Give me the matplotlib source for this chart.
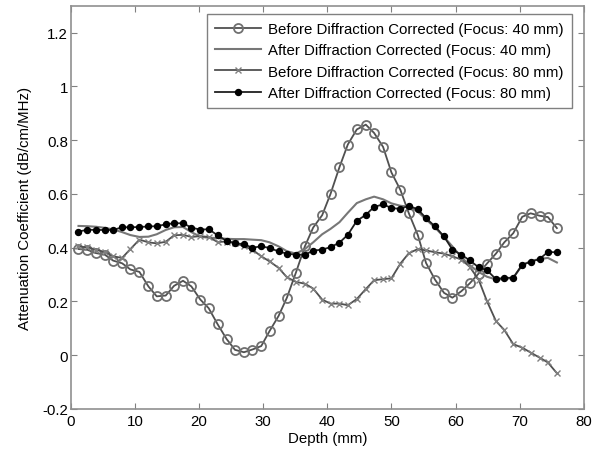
import numpy as np
import matplotlib
matplotlib.use("Agg")
import matplotlib.pyplot as plt

plt.rcParams['font.family'] = ['Liberation Sans', 'DejaVu Sans']

# depth grid (mm)
depth = [1.2, 2.6, 3.9, 5.3, 6.6, 8.0, 9.3, 10.7, 12.1, 13.4,
         14.8, 16.1, 17.5, 18.8, 20.2, 21.5, 22.9, 24.3, 25.6, 27.0,
         28.3, 29.7, 31.0, 32.4, 33.7, 35.1, 36.5, 37.8, 39.2, 40.5,
         41.9, 43.2, 44.6, 46.0, 47.3, 48.7, 50.0, 51.4, 52.7, 54.1,
         55.4, 56.8, 58.2, 59.5, 60.9, 62.2, 63.6, 64.9, 66.3, 67.6,
         69.0, 70.4, 71.7, 73.1, 74.4, 75.8]

before_40 = [0.395, 0.392, 0.380, 0.374, 0.352, 0.342, 0.319, 0.310, 0.256, 0.219,
             0.222, 0.258, 0.277, 0.256, 0.207, 0.175, 0.115, 0.060, 0.020, 0.011,
             0.021, 0.034, 0.090, 0.146, 0.214, 0.307, 0.405, 0.475, 0.521, 0.600,
             0.700, 0.784, 0.840, 0.858, 0.827, 0.775, 0.680, 0.615, 0.529, 0.448,
             0.343, 0.281, 0.232, 0.214, 0.238, 0.267, 0.304, 0.341, 0.378, 0.420,
             0.454, 0.515, 0.528, 0.519, 0.514, 0.473]

after_40 = [0.481, 0.480, 0.478, 0.474, 0.468, 0.458, 0.447, 0.440, 0.441, 0.450,
            0.466, 0.476, 0.477, 0.458, 0.441, 0.437, 0.436, 0.433, 0.432, 0.432,
            0.430, 0.428, 0.420, 0.405, 0.387, 0.378, 0.395, 0.420, 0.450, 0.470,
            0.495, 0.530, 0.566, 0.580, 0.590, 0.580, 0.565, 0.556, 0.553, 0.535,
            0.505, 0.475, 0.440, 0.405, 0.365, 0.335, 0.310, 0.292, 0.282, 0.283,
            0.288, 0.335, 0.350, 0.358, 0.362, 0.345]

before_80 = [0.405, 0.401, 0.393, 0.384, 0.368, 0.362, 0.395, 0.430, 0.420, 0.416,
             0.422, 0.446, 0.448, 0.440, 0.443, 0.440, 0.421, 0.423, 0.417, 0.405,
             0.393, 0.368, 0.349, 0.325, 0.290, 0.273, 0.266, 0.248, 0.207, 0.192,
             0.192, 0.186, 0.209, 0.246, 0.279, 0.283, 0.286, 0.341, 0.379, 0.395,
             0.390, 0.383, 0.378, 0.368, 0.356, 0.329, 0.281, 0.201, 0.127, 0.094,
             0.041, 0.028, 0.010, -0.009, -0.027, -0.067]

after_80 = [0.460, 0.467, 0.466, 0.466, 0.466, 0.476, 0.476, 0.477, 0.479, 0.480,
            0.487, 0.491, 0.491, 0.475, 0.467, 0.469, 0.446, 0.425, 0.417, 0.413,
            0.400, 0.405, 0.399, 0.386, 0.378, 0.374, 0.374, 0.389, 0.393, 0.402,
            0.419, 0.448, 0.500, 0.522, 0.552, 0.561, 0.548, 0.544, 0.556, 0.543,
            0.510, 0.479, 0.442, 0.393, 0.374, 0.353, 0.327, 0.316, 0.283, 0.288,
            0.288, 0.337, 0.347, 0.358, 0.384, 0.383]

fs = 10.8

fig = plt.figure(figsize=(6, 4.56), dpi=100)
ax = fig.add_axes([0.118, 0.101, 0.855, 0.884])

ax.plot(depth, before_40, color='#505050', lw=1.3, marker='o', ms=6.5,
        mfc='none', mec='#707070', mew=1.3,
        label='Before Diffraction Corrected (Focus: 40 mm)')
ax.plot(depth, after_40, color='#777777', lw=1.5,
        label='After Diffraction Corrected (Focus: 40 mm)')
ax.plot(depth, before_80, color='#505050', lw=1.3, marker='x', ms=4,
        mec='#808080', mew=1.0,
        label='Before Diffraction Corrected (Focus: 80 mm)')
ax.plot(depth, after_80, color='#202020', lw=1.3, marker='o', ms=4.3,
        mfc='black', mec='black',
        label='After Diffraction Corrected (Focus: 80 mm)')

ax.set_xlim(0, 80)
ax.set_ylim(-0.2, 1.3)
ax.set_xticks(range(0, 81, 10))
ax.set_yticks([-0.2, 0, 0.2, 0.4, 0.6, 0.8, 1.0, 1.2])
ax.set_yticklabels(['-0.2', '0', '0.2', '0.4', '0.6', '0.8', '1', '1.2'])
ax.tick_params(direction='in', length=4, top=True, right=True,
               labelsize=fs, color='#808080')
ax.tick_params(axis='x', pad=4)
ax.tick_params(axis='y', pad=2)
for s in ax.spines.values():
    s.set_color('#909090')
    s.set_linewidth(1.2)

ax.set_xlabel('Depth (mm)', fontsize=fs, labelpad=2)
ax.set_ylabel('Attenuation Coefficient (dB/cm/MHz)', fontsize=fs, labelpad=7)

leg = ax.legend(loc='upper right', bbox_to_anchor=(0.9766, 0.980),
                borderaxespad=0, fontsize=fs, fancybox=False,
                framealpha=1, edgecolor='#808080',
                handlelength=3.05, labelspacing=0.48, borderpad=0.55,
                handletextpad=0.47)
leg.get_frame().set_linewidth(1.0)

fig.savefig('out.png', dpi=100)
